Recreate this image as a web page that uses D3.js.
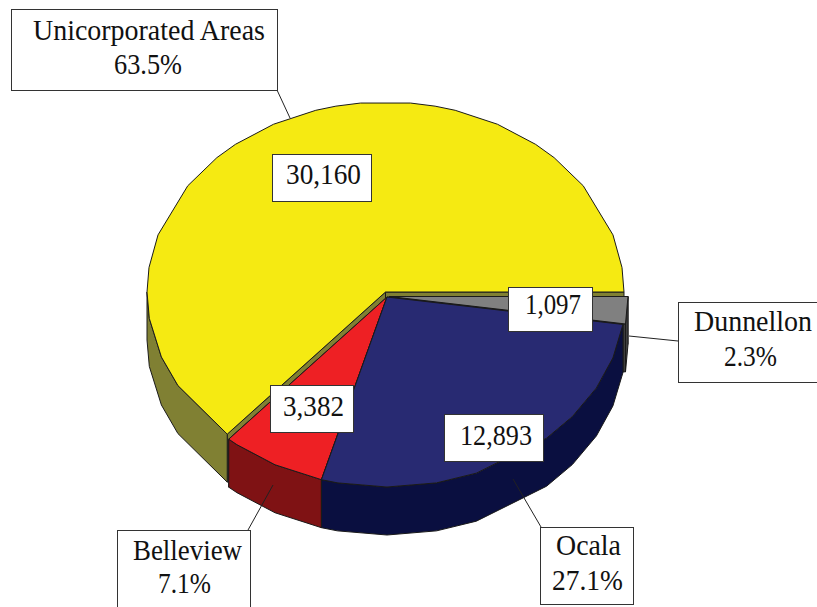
<!DOCTYPE html>
<html>
<head>
<meta charset="utf-8">
<script src="https://cdn.jsdelivr.net/npm/d3@7"></script>
<style>
html, body { margin: 0; padding: 0; background: #fff; }
svg { display: block; }
text { font-family: "Liberation Serif", serif; font-size: 29px; fill: #111; }
</style>
</head>
<body>
<div id="chart"></div>
<script>
// slice order is clockwise from 3 o'clock
var categories = ["Dunnellon", "Ocala", "Belleview", "Unicorporated Areas"];
var values = [1097, 12893, 3382, 30160];
var valueLabels = ["1,097", "12,893", "3,382", "30,160"];
var percentLabels = ["2.3%", "27.1%", "7.1%", "63.5%"];

var topColors = ["#808080", "#282a72", "#ee2024", "#f5ea12"];
var wallColors = ["#404040", "#0a0f40", "#7f1214", "#808033"];

var width = 817;
var height = 607;
var rx = 238.5;
var ry = 190;
var depth = 48;

// the rim is made of uneven straight segments, degrees clockwise from the top
var rimDegrees = [6, 12, 17, 28, 39, 45, 56, 72.5, 82.6, 90, 108.7, 118.6, 129, 138, 158, 168, 180,
    192, 208, 219, 240.5, 250, 262, 270, 277.4, 287.5, 304, 315, 321, 332, 343, 348, 354, 366, 372,
    377, 388, 399, 405, 416, 432.5, 442.6];

// exploded slice centres
var centres = [[389.5, 296.5], [387, 297], [387, 297], [385.5, 292]];

// callout boxes: x, y, w, h, then leader line
var nameBoxes = [
    { x: 678.5, y: 302.5, w: 150, h: 80, line: [629, 336, 678, 341], cx: [753, 750.5], by: [331, 366], tl: [118, 53] },
    { x: 540.5, y: 527.5, w: 93, h: 77, line: [513, 479, 541, 527], cx: [588.5, 587.5], by: [555, 590], tl: [65, 71] },
    { x: 117.5, y: 530.5, w: 133, h: 90, line: [273, 485, 248, 530], cx: [187.5, 184.5], by: [560, 593], tl: [109, 53] },
    { x: 11.5, y: 9.5, w: 266, h: 81, line: [277, 90, 290, 118], cx: [149, 148], by: [40, 74], tl: [232, 68] }
];
var valueBoxes = [
    { x: 508.5, y: 287.5, w: 84, h: 44, cx: 553, by: 314, tl: 56 },
    { x: 444.5, y: 414.5, w: 99, h: 47, cx: 496, by: 445, tl: 72 },
    { x: 270.5, y: 385.5, w: 83, h: 47, cx: 313.5, by: 416, tl: 61 },
    { x: 272.5, y: 154.5, w: 99, h: 47, cx: 323.5, by: 184, tl: 75 }
];

var svg = d3.select("#chart")
    .append("svg")
    .attr("width", width)
    .attr("height", height);

var pie = d3.pie()
    .sort(null)
    .startAngle(Math.PI / 2)
    .endAngle(Math.PI / 2 + 2 * Math.PI);

var slices = pie(values);

var line = d3.line();

function rimAngles(a0, a1) {
    var list = [a0];
    rimDegrees.forEach(function (deg) {
        var a = deg * Math.PI / 180;
        if (a > a0 + 1e-6 && a < a1 - 1e-6) list.push(a);
    });
    list.push(a1);
    return list;
}

function point(i, a, drop) {
    return [
        centres[i][0] + rx * Math.sin(a),
        centres[i][1] - ry * Math.cos(a) + (drop || 0)
    ];
}

function topPath(d, i) {
    var pts = [centres[i]].concat(rimAngles(d.startAngle, d.endAngle).map(function (a) {
        return point(i, a);
    }));
    return line(pts) + "Z";
}

function wallPath(d, i) {
    // only the front half of the rim can be seen
    var a0 = d.startAngle;
    var a1 = Math.min(d.endAngle, 3 * Math.PI / 2);
    var upper = rimAngles(a0, a1).map(function (a) { return point(i, a); });
    var lower = rimAngles(a0, a1).reverse().map(function (a) { return point(i, a, depth); });
    return line(upper.concat(lower)) + "Z";
}

function cutPath(i, a) {
    var c = centres[i];
    var e = point(i, a);
    return line([c, e, [e[0], e[1] + depth], [c[0], c[1] + depth]]) + "Z";
}

var drawOrder = [3, 0, 2, 1];

var g = svg.append("g")
    .attr("stroke", "#1a1a1a")
    .attr("stroke-width", 1)
    .attr("stroke-linejoin", "round");

drawOrder.forEach(function (i) {
    var d = slices[i];
    g.append("path").attr("fill", wallColors[i]).attr("d", cutPath(i, d.startAngle));
    g.append("path").attr("fill", wallColors[i]).attr("d", cutPath(i, d.endAngle));
    g.append("path").attr("fill", wallColors[i]).attr("d", wallPath(d, i));
    g.append("path").attr("fill", topColors[i]).attr("d", topPath(d, i));
});

// leader lines and name boxes
nameBoxes.forEach(function (b, i) {
    svg.append("line")
        .attr("x1", b.line[0]).attr("y1", b.line[1])
        .attr("x2", b.line[2]).attr("y2", b.line[3])
        .attr("stroke", "#222");

    svg.append("rect")
        .attr("x", b.x).attr("y", b.y)
        .attr("width", b.w).attr("height", b.h)
        .attr("fill", "#fff")
        .attr("stroke", "#333");

    [categories[i], percentLabels[i]].forEach(function (t, k) {
        svg.append("text")
            .attr("x", b.cx[k])
            .attr("y", b.by[k])
            .attr("text-anchor", "middle")
            .attr("textLength", b.tl[k])
            .attr("lengthAdjust", "spacingAndGlyphs")
            .text(t);
    });
});

valueBoxes.forEach(function (b, i) {
    svg.append("rect")
        .attr("x", b.x).attr("y", b.y)
        .attr("width", b.w).attr("height", b.h)
        .attr("fill", "#fff")
        .attr("stroke", "#333");

    svg.append("text")
        .attr("x", b.cx)
        .attr("y", b.by)
        .attr("text-anchor", "middle")
        .attr("textLength", b.tl)
        .attr("lengthAdjust", "spacingAndGlyphs")
        .text(valueLabels[i]);
});
</script>
</body>
</html>
